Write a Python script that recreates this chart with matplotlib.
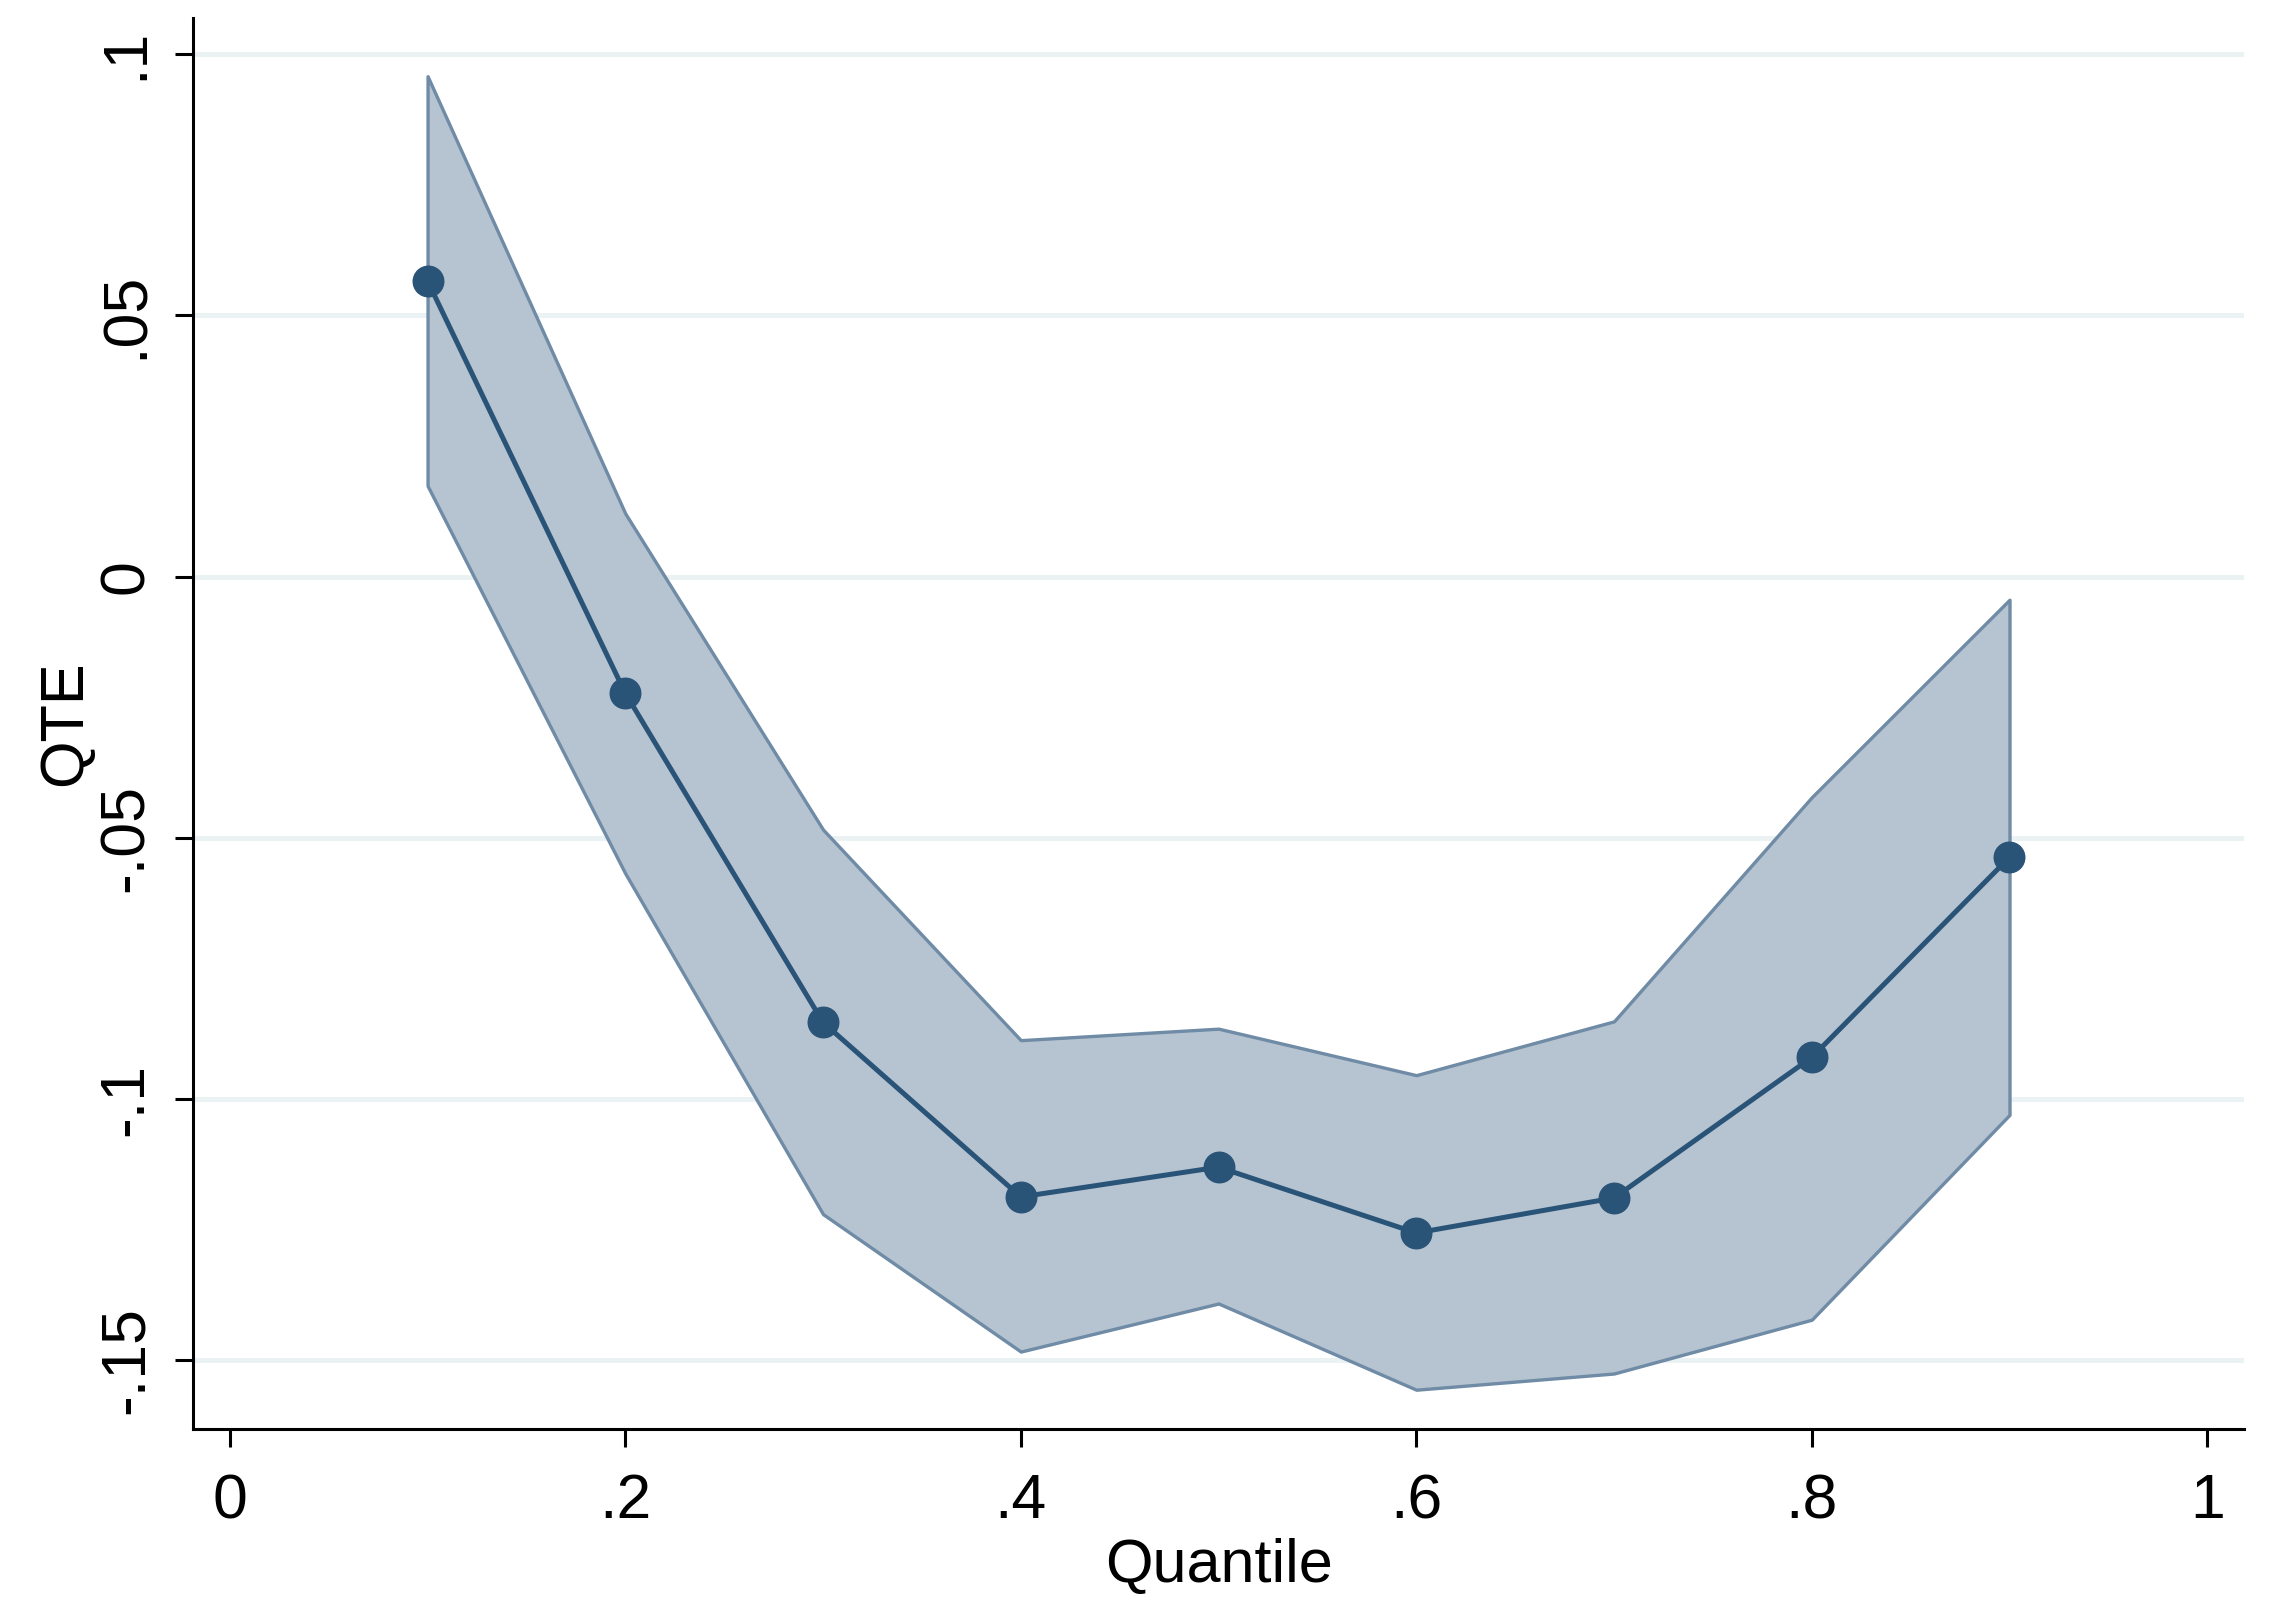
import matplotlib
matplotlib.use('Agg')
import matplotlib.pyplot as plt
from matplotlib.ticker import FixedLocator

plt.rcParams['font.family'] = ['Liberation Sans', 'DejaVu Sans']

# 分位数及对应的处理效应、置信区间
quantiles = [0.1, 0.2, 0.3, 0.4, 0.5, 0.6, 0.7, 0.8, 0.9]
qte = [0.0566, -0.0223, -0.0853, -0.1187, -0.1130, -0.1256, -0.1189, -0.0920, -0.0537]
ci_upper = [0.0958, 0.0121, -0.0484, -0.0887, -0.0865, -0.0954, -0.0851, -0.0422, -0.0044]
ci_lower = [0.0174, -0.0568, -0.1220, -0.1483, -0.1391, -0.1556, -0.1525, -0.1422, -0.1030]

x_ticks = [0, 0.2, 0.4, 0.6, 0.8, 1.0]
x_tick_labels = ['0', '.2', '.4', '.6', '.8', '1']
y_ticks = [-0.15, -0.1, -0.05, 0, 0.05, 0.1]
y_tick_labels = ['-.15', '-.1', '-.05', '0', '.05', '.1']

fig = plt.figure(figsize=(22.95, 16.05), dpi=100)
ax = fig.add_axes([0.0842, 0.1094, 0.8935, 0.8796])

for y in y_ticks:
    ax.axhline(y, color='#eaf2f3', lw=3.5, zorder=0)

ax.fill_between(quantiles, ci_lower, ci_upper, facecolor='#b6c4d1',
                edgecolor='#6f8ba5', lw=2.4, zorder=1)
ax.plot(quantiles, qte, color='#2a5378', lw=3.6, marker='o',
        markersize=22, markerfacecolor='#2a5378', markeredgecolor='#2a5378', zorder=2)

ax.set_xlim(-0.0185, 1.0185)
ax.set_ylim(-0.1632, 0.107)
ax.xaxis.set_major_locator(FixedLocator(x_ticks))
ax.yaxis.set_major_locator(FixedLocator(y_ticks))
ax.set_xticklabels(x_tick_labels)
ax.set_yticklabels(y_tick_labels, rotation=90, va='center')

for s in ['top', 'right']:
    ax.spines[s].set_visible(False)
for s in ['left', 'bottom']:
    ax.spines[s].set_linewidth(2.2)
    ax.spines[s].set_color('black')

ax.tick_params(axis='both', length=13, width=2.2, labelsize=45)
ax.tick_params(axis='x', pad=18)
ax.tick_params(axis='y', pad=14)
ax.set_xlabel('Quantile', fontsize=44, labelpad=5)
ax.set_ylabel('QTE', fontsize=44, labelpad=2)

plt.savefig('out.png', dpi=100)
